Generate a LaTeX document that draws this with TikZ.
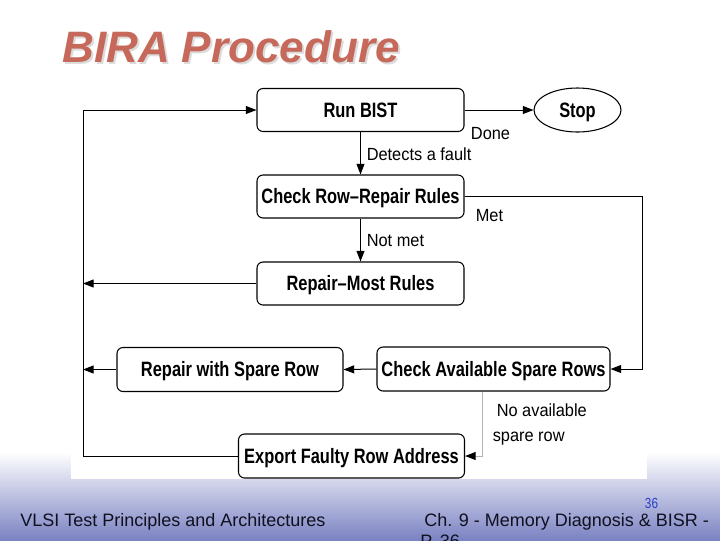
\documentclass[tikz,border=0pt]{standalone}
\usepackage{fontspec}
\setmainfont{Liberation Sans}
\newfontfamily\boxfont[FakeStretch=0.79]{Liberation Sans}
\newfontfamily\lblfont[FakeStretch=0.93]{Liberation Sans}
\newfontfamily\narrowfont[FakeStretch=0.8]{Liberation Sans}
\usetikzlibrary{arrows.meta,shapes.geometric,calc}
\newdimen\pxu \pxu=0.75pt
\definecolor{titlecol}{RGB}{198,104,90}
\definecolor{shadowcol}{RGB}{220,220,220}
\definecolor{footblue}{RGB}{122,130,194}
\definecolor{numblue}{RGB}{40,60,200}
\definecolor{footink}{RGB}{16,16,32}
\tikzset{
  procbox/.style={draw=black, line width=0.8pt, rounded corners=4.5pt, fill=white,
    inner sep=0pt, minimum height=43\pxu, text height=11.2pt, text depth=0pt,
    font=\boxfont\bfseries\fontsize{15.6}{18}\selectfont},
  stopshape/.style={draw=black, line width=0.8pt, ellipse, inner sep=0pt,
    minimum width=87\pxu, minimum height=44\pxu, text height=11.2pt, text depth=0pt,
    font=\boxfont\bfseries\fontsize{15.6}{18}\selectfont},
  conn/.style={line width=0.75pt, draw=black,
    -{Triangle[length=8pt,width=6pt,color=black]}},
  lbl/.style={inner sep=0pt, text height=9.5pt, text depth=0pt,
    font=\lblfont\fontsize{13.2}{15}\selectfont},
  foot/.style={inner sep=0pt, text=footink, font=\fontsize{13.5}{15.75}\selectfont}
}
\begin{document}
\begin{tikzpicture}[x=0.75pt,y=-0.75pt]
\useasboundingbox (0,0) rectangle (720,540);
\clip (0,0) rectangle (720,540);
% background
\fill[white] (0,0) rectangle (720,540);
\shade[top color=white, bottom color=footblue] (0,452) rectangle (720,540);
\fill[white] (71,80) rectangle (647,479);
% title
\node[anchor=base west, inner sep=0pt, text=shadowcol, font=\bfseries\itshape\fontsize{33}{38}\selectfont] (titleshadow) at (64,64) {BIRA Procedure};
\node[anchor=base west, inner sep=0pt, text=titlecol, font=\bfseries\itshape\fontsize{33}{38}\selectfont] (title) at (62,62) {BIRA Procedure};
% nodes
\node[procbox, minimum width=207\pxu] (run) at (360.5,110) {Run BIST};
\node[stopshape] (stop) at (577.5,110) {Stop};
\node[procbox, minimum width=207\pxu] (crr) at (360.5,196.5) {Check Row–Repair Rules};
\node[procbox, minimum width=207\pxu] (rmr) at (360.5,283.5) {Repair–Most Rules};
\node[procbox, minimum width=226\pxu, minimum height=44\pxu] (rsr) at (230,369.5) {Repair with Spare Row};
\node[procbox, minimum width=233\pxu, minimum height=44\pxu] (cas) at (493.5,369) {Check Available Spare Rows};
\node[procbox, minimum width=226\pxu, minimum height=44\pxu] (efr) at (351.5,456) {Export Faulty Row Address};
% helper coordinates
\coordinate (L) at (83,110);
\coordinate (R) at (642,369);
\coordinate (D) at (482,456);
% connectors
\draw[conn] (run.east) -- (stop.west);
\draw[conn] (run.south) -- (crr.north);
\draw[conn] (crr.south) -- (rmr.north);
\draw[conn] (crr.east) -| (R) -- (cas.east);
\draw[conn] (cas.west) -- (rsr.east);
\draw[conn] (rmr.west) -- (rmr.west -| L);
\draw[conn] (rsr.west) -- (rsr.west -| L);
\draw[conn] (efr.west) -| (L) -- (run.west);
\draw[conn, draw=black!30] (cas.south -| D) |- (efr.east);
% labels
\node[lbl] (ldone) at (490.5,133) {Done};
\node[lbl, anchor=west] (lfault) at (366.5,154) {Detects a fault};
\node[lbl] (lmet) at (489.5,215) {Met};
\node[lbl, anchor=west] (lnotmet) at (366.5,240) {Not met};
\node[lbl, anchor=west] (lnoavail) at (496.5,410) {No available};
\node[lbl, anchor=west] (lspare) at (492.5,435) {spare row};
% footer
\node[foot, anchor=base west] (footleft) at (20,526) {VLSI Test Principles and Architectures};
\node[foot, anchor=base west] (footright1) at (424,526) {Ch. 9 - Memory Diagnosis \& BISR -};
\node[foot, anchor=base west] (footright2) at (420,547) {P. 36};
\node[inner sep=0pt, text=numblue, font=\narrowfont\fontsize{11}{13}\selectfont] (pagenum) at (651.5,503) {36};
\end{tikzpicture}
\end{document}
